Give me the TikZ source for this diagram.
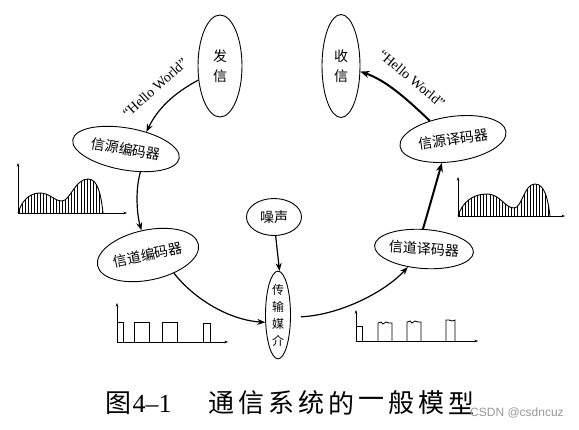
\documentclass[tikz,border=0pt]{standalone}
\usepackage{fontspec}
\newfontfamily\cjk{Noto Sans CJK SC}
\newfontfamily\serif[Ligatures=TeX]{Liberation Serif}
\newfontfamily\wm{Liberation Sans}
\usetikzlibrary{shapes.geometric,arrows.meta}
\begin{document}
\begin{tikzpicture}[x=1pt,y=-1pt,
  ell/.style={draw, ellipse, inner sep=0pt, line width=0.9pt, font=\cjk\fontsize{14}{20}\selectfont, align=center},
  conn/.style={line width=1.2pt, -{Stealth[length=8pt,width=6pt]}},
  thick conn/.style={line width=2pt, -{Stealth[length=9pt,width=7pt]}},
  ax/.style={line width=0.45pt, -{Stealth[length=3.5pt,width=2.5pt]}},
  wave/.style={line width=0.9pt},
  pulse/.style={line width=0.8pt},
  hello/.style={font=\serif\fontsize{14}{16}\selectfont, inner sep=0pt},
  capc/.style={inner sep=0pt, font=\cjk\fontsize{26}{28}\selectfont}
]
\fill[white] (0,0) rectangle (579,429);
\useasboundingbox (0,0) rectangle (579,429);

% nodes
\node[ell, minimum width=44pt, minimum height=102pt] (fa) at (220,66) {发\\信};
\node[ell, minimum width=38pt, minimum height=103pt] (shou) at (341,66) {收\\信};
\node[ell, minimum width=108pt, minimum height=42pt, rotate=-10] (yb) at (126,149) {信源编码器};
\node[ell, minimum width=107pt, minimum height=45pt, rotate=8] (yy) at (453,139) {信源译码器};
\node[ell, minimum width=103pt, minimum height=50pt, rotate=12] (db) at (148,255) {信道编码器};
\node[ell, minimum width=99pt, minimum height=39pt, rotate=-4] (dy) at (424,249) {信道译码器};
\node[ell, minimum width=55pt, minimum height=37pt] (zs) at (274,217) {噪声};
\node[ell, minimum width=25pt, minimum height=80pt, font=\cjk\fontsize{12}{17}\selectfont] (mj) at (278,315) {传\\输\\媒\\介};

% labels
\node[hello, rotate=42] (h1) at (155,88) {“Hello World”};
\node[hello, rotate=-40] (h2) at (412,79) {“Hello World”};

% connectors
\draw[conn] (fa.213) .. controls (180,90) and (160,104) .. (yb.50);
\draw[conn] (yb.-48) .. controls (135,190) and (137,215) .. (db.93);
\draw[conn] (db.-47) .. controls (195,300) and (230,320) .. (mj.210);
\draw[conn] (zs.-85) -- (mj.88);
\draw[conn, shorten <=10pt] (mj.-10) .. controls (340,315) and (385,292) .. (dy.232);
\draw[thick conn] (dy.97) .. controls (430,205) and (437,180) .. (yy.237);
\draw[thick conn] (yy.134) .. controls (405,97) and (385,80) .. (shou.-16);

% left analog waveform
\draw[ax] (18,213) -- (18,163);
\draw[ax] (18,213) -- (127,213);
\begin{scope}
\clip (18,213) .. controls (22,200) and (30,193) .. (40,193) .. controls (50,193) and (54,201) .. (62,201) .. controls (70,201) and (75,179) .. (88,179) .. controls (98,179) and (101,195) .. (103,213) -- cycle;
\foreach \x in {19,22.1,...,104} \draw[line width=0.85pt] (\x,214) -- (\x,175);
\end{scope}
\draw[wave] (18,213) .. controls (22,200) and (30,193) .. (40,193) .. controls (50,193) and (54,201) .. (62,201) .. controls (70,201) and (75,179) .. (88,179) .. controls (98,179) and (101,195) .. (103,213);

% right analog waveform
\draw[ax] (458,216) -- (458,177);
\draw[ax] (458,216) -- (565,216);
\begin{scope}
\clip (458,216) .. controls (462,203) and (472,194) .. (487,194) .. controls (500,194) and (505,208) .. (514,208) .. controls (522,208) and (524,184) .. (535,184) .. controls (545,184) and (548,200) .. (550,216) -- cycle;
\foreach \x in {459,462.1,...,551} \draw[line width=0.85pt] (\x,217) -- (\x,180);
\end{scope}
\draw[wave] (458,216) .. controls (462,203) and (472,194) .. (487,194) .. controls (500,194) and (505,208) .. (514,208) .. controls (522,208) and (524,184) .. (535,184) .. controls (545,184) and (548,200) .. (550,216);

% left digital waveform
\draw[ax] (117,342) -- (117,303);
\draw[ax] (117,342) -- (228,342);
\draw[pulse] (117,322) -- (123,322) -- (123,342);
\draw[pulse] (134,342) -- (134,322) -- (149,322) -- (149,342);
\draw[pulse] (162,342) -- (162,322) -- (177,322) -- (177,342);
\draw[pulse] (203,342) -- (203,323) -- (210,323) -- (210,342);

% right digital waveform
\draw[ax] (356,341) -- (356,310);
\draw[ax] (356,341) -- (478,341);
\draw[pulse] (356,326) -- (362,326) -- (362,341);
\draw[pulse] (378,341) -- (378,323) -- (381,322) -- (383,324) -- (386,322) -- (389,323) -- (392,323) -- (392,341);
\draw[pulse] (407,341) -- (407,322) -- (410,321) -- (412,323) -- (415,321) -- (418,322) -- (421,322) -- (421,341);
\draw[pulse] (446,341) -- (446,320) -- (449,320) -- (452,321) -- (455,320) -- (455,341);

% caption
\node[capc] (c0) at (118.5,403) {图};
\node[inner sep=0pt, font=\serif\fontsize{26}{28}\selectfont] (c0n) at (152,404) {4–1};
\node[capc] (c1) at (221.5,403) {通};
\node[capc] (c2) at (251.5,403) {信};
\node[capc] (c3) at (281.5,403) {系};
\node[capc] (c4) at (311.5,403) {统};
\node[capc] (c5) at (341.5,403) {的};
\node[capc] (c6) at (371.5,403) {一};
\node[capc] (c7) at (401.5,403) {般};
\node[capc] (c8) at (431.5,403) {模};
\node[capc] (c9) at (461.5,403) {型};
\node[anchor=west, inner sep=0pt, text=black!40, font=\wm\fontsize{12}{14}\selectfont] (wm) at (470,413) {CSDN @csdncuz};
\end{tikzpicture}
\end{document}
